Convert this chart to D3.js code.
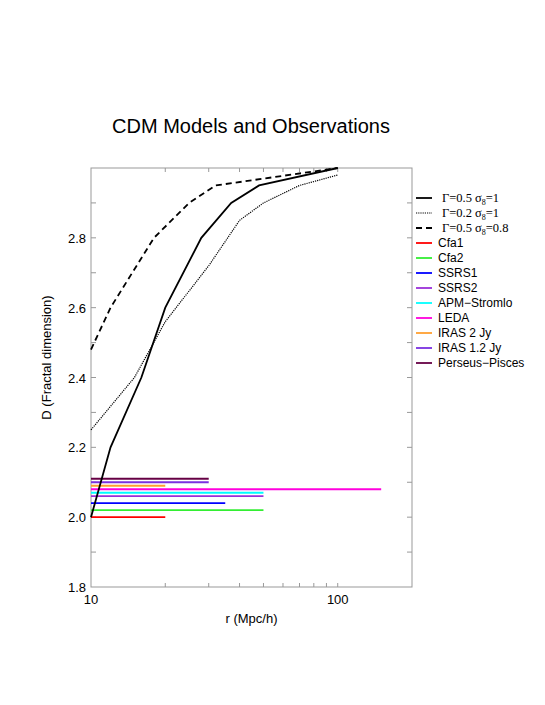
<!DOCTYPE html>
<html>
<head>
<meta charset="utf-8">
<script src="https://cdn.jsdelivr.net/npm/d3@7"></script>
<style>
  body { margin: 0; background: #fff; }
  text { font-family: "Liberation Sans", Arial, sans-serif; }
  .serif { font-family: "Liberation Serif", "Times New Roman", serif; }
</style>
</head>
<body>
<div id="wrapper"></div>
<script>
// model curves (r in Mpc/h, D)
const modelGamma = ['0.5', '0.2', '0.5'];
const modelSigma = ['1', '1', '0.8'];
const modelSolid = [[10, 2.0], [12, 2.2], [16, 2.4], [20, 2.6], [28, 2.8], [37, 2.9], [48, 2.95], [100, 3.0]];
const modelDotted = [[10, 2.25], [15, 2.4], [20, 2.56], [30, 2.72], [40, 2.85], [50, 2.9], [70, 2.95], [100, 2.98]];
const modelDashed = [[10, 2.48], [12, 2.6], [18, 2.8], [25, 2.9], [32, 2.95], [100, 3.0]];

// observations: survey name, D, max depth
const surveys = ['Cfa1', 'Cfa2', 'SSRS1', 'SSRS2', 'APM\u2212Stromlo', 'LEDA', 'IRAS 2 Jy', 'IRAS 1.2 Jy', 'Perseus\u2212Pisces'];
const surveyD = [2.0, 2.02, 2.04, 2.06, 2.07, 2.08, 2.09, 2.10, 2.11];
const surveyRmax = [20, 50, 35, 50, 50, 150, 20, 30, 30];
const surveyColors = ['#ff0000', '#33ee33', '#0000ff', '#9a30d8', '#00ffff', '#ff00dd', '#ffa030', '#7a30e0', '#660044'];

const xTicks = [10, 100];
const yTicks = [1.8, 2.0, 2.2, 2.4, 2.6, 2.8];

const dimensions = {
  width: 545,
  height: 705,
  margin: { top: 168, right: 133, bottom: 118, left: 91 }
};
dimensions.boundedWidth = dimensions.width - dimensions.margin.left - dimensions.margin.right;
dimensions.boundedHeight = dimensions.height - dimensions.margin.top - dimensions.margin.bottom;

const wrapper = d3.select('#wrapper').append('svg')
  .attr('width', dimensions.width)
  .attr('height', dimensions.height);

const bounds = wrapper.append('g')
  .attr('transform', `translate(${dimensions.margin.left},${dimensions.margin.top})`);

const xScale = d3.scaleLog().domain([10, 200]).range([0, dimensions.boundedWidth]);
const yScale = d3.scaleLinear().domain([1.8, 3.0]).range([dimensions.boundedHeight, 0]);

const frameColor = '#999';

// frame
bounds.append('rect')
  .attr('width', dimensions.boundedWidth)
  .attr('height', dimensions.boundedHeight)
  .attr('fill', 'none')
  .attr('stroke', frameColor)
  .attr('stroke-width', 1);

// ticks, inward on all four sides
const xMinor = d3.range(20, 110, 10);
const yMinor = d3.range(19, 30).map(d => d / 10);
xMinor.forEach(v => {
  const x = xScale(v);
  bounds.append('line').attr('x1', x).attr('x2', x).attr('y1', dimensions.boundedHeight).attr('y2', dimensions.boundedHeight - 4).attr('stroke', frameColor);
  bounds.append('line').attr('x1', x).attr('x2', x).attr('y1', 0).attr('y2', 4).attr('stroke', frameColor);
});
yMinor.forEach(v => {
  const y = yScale(v);
  bounds.append('line').attr('x1', 0).attr('x2', 5).attr('y1', y).attr('y2', y).attr('stroke', frameColor);
  bounds.append('line').attr('x1', dimensions.boundedWidth).attr('x2', dimensions.boundedWidth - 5).attr('y1', y).attr('y2', y).attr('stroke', frameColor);
});

// tick labels
bounds.selectAll('.xlab').data(xTicks).join('text')
  .attr('x', d => xScale(d))
  .attr('y', dimensions.boundedHeight + 17)
  .attr('text-anchor', 'middle')
  .attr('font-size', 13)
  .text(d => d);

bounds.selectAll('.ylab').data(yTicks).join('text')
  .attr('x', -5)
  .attr('y', d => yScale(d) + 5)
  .attr('text-anchor', 'end')
  .attr('font-size', 13)
  .text(d => d.toFixed(1));

// axis titles
bounds.append('text')
  .attr('x', dimensions.boundedWidth / 2)
  .attr('y', dimensions.boundedHeight + 36)
  .attr('text-anchor', 'middle')
  .attr('font-size', 13)
  .text('r (Mpc/h)');

bounds.append('text')
  .attr('transform', `translate(-40,${dimensions.boundedHeight / 2 - 20}) rotate(-90)`)
  .attr('text-anchor', 'middle')
  .attr('font-size', 13)
  .text('D (Fractal dimension)');

// title
wrapper.append('text')
  .attr('x', 251)
  .attr('y', 133)
  .attr('text-anchor', 'middle')
  .attr('font-size', 20)
  .text('CDM Models and Observations');

// observation segments
bounds.selectAll('.survey').data(surveys).join('line')
  .attr('x1', xScale(10))
  .attr('x2', (d, i) => xScale(surveyRmax[i]))
  .attr('y1', (d, i) => yScale(surveyD[i]))
  .attr('y2', (d, i) => yScale(surveyD[i]))
  .attr('stroke', (d, i) => surveyColors[i])
  .attr('stroke-width', 1.8);

// model curves
const lineGen = d3.line().x(d => xScale(d[0])).y(d => yScale(d[1]));
const models = [modelSolid, modelDotted, modelDashed];
const dashes = [null, '1.2,1', '6,4'];
const widths = [1.8, 1.2, 1.8];
models.forEach((m, i) => {
  bounds.append('path')
    .attr('d', lineGen(m))
    .attr('fill', 'none')
    .attr('stroke', '#000')
    .attr('stroke-width', widths[i])
    .attr('stroke-dasharray', dashes[i]);
});

// legend
const legend = wrapper.append('g').attr('transform', 'translate(416,198)');
const rowH = 15;
modelGamma.forEach((g, i) => {
  const y = i * rowH;
  legend.append('line').attr('x1', 0).attr('x2', 16).attr('y1', y).attr('y2', y)
    .attr('stroke', '#000').attr('stroke-width', widths[i]).attr('stroke-dasharray', dashes[i]);
  const t = legend.append('text').attr('class', 'serif').attr('x', 26).attr('y', y + 4).attr('font-size', 12.5);
  t.append('tspan').text(`Γ=${g} σ`);
  t.append('tspan').attr('font-size', 8).attr('dy', 3).text('8');
  t.append('tspan').attr('dy', -3).text(`=${modelSigma[i]}`);
});
surveys.forEach((name, i) => {
  const y = (i + 3) * rowH;
  legend.append('line').attr('x1', 0).attr('x2', 16).attr('y1', y).attr('y2', y)
    .attr('stroke', surveyColors[i]).attr('stroke-width', 1.8);
  legend.append('text').attr('x', 22).attr('y', y + 4).attr('font-size', 12).text(name);
});
</script>
</body>
</html>
